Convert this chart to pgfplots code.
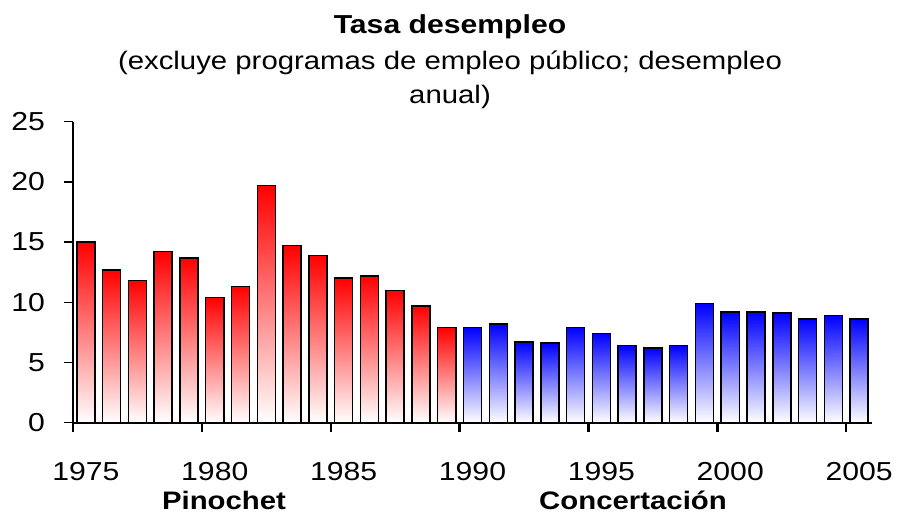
\documentclass[border=0pt]{standalone}
\usepackage{fontspec}
\setmainfont{Liberation Sans}[FakeStretch=1.16]
\usepackage{pgfplots}
\pgfplotsset{compat=1.18}
\pgfplotsset{
  rbar/.style={ybar, bar width=0.7, bar shift=0pt, draw=black, line width=1.5pt, top color=red, bottom color=white},
  bbar/.style={ybar, bar width=0.7, bar shift=0pt, draw=black, line width=1.5pt, top color=blue, bottom color=white},
}
\begin{document}
\begin{tikzpicture}
\useasboundingbox (0,0) rectangle (901pt,517pt);
\begin{axis}[
  at={(73pt,94.3pt)}, anchor=south west,
  scale only axis, width=799pt, height=301pt,
  xmin=1974.5, xmax=2005.5, ymin=0, ymax=25,
  axis x line*=bottom, axis y line*=left,
  x axis line style={line width=2.4pt, -},
  y axis line style={line width=1.3pt, -},
  tick align=outside,
  major tick length=9pt,
  xtick={1974.5,1979.5,1984.5,1989.5,1994.5,1999.5,2004.5},
  xticklabels={1975,1980,1985,1990,1995,2000,2005},
  x tick style={line width=2.4pt, black},
  y tick style={line width=1.3pt, black},
  minor tick num=0,
  ytick={0,5,10,15,20,25},
  yticklabels={0,5,10,15,20,25},
  xticklabel style={font=\fontsize{26}{30}\selectfont, anchor=base, xshift=12.89pt, yshift=-48.3pt},
  yticklabel style={font=\fontsize{26}{30}\selectfont, anchor=east, inner sep=0pt, xshift=-19pt},
  clip=false,
]
% Pinochet years
\addplot[rbar] coordinates {(1975,15.0)};
\addplot[rbar] coordinates {(1976,12.7)};
\addplot[rbar] coordinates {(1977,11.8)};
\addplot[rbar] coordinates {(1978,14.2)};
\addplot[rbar] coordinates {(1979,13.7)};
\addplot[rbar] coordinates {(1980,10.4)};
\addplot[rbar] coordinates {(1981,11.3)};
\addplot[rbar] coordinates {(1982,19.7)};
\addplot[rbar] coordinates {(1983,14.7)};
\addplot[rbar] coordinates {(1984,13.9)};
\addplot[rbar] coordinates {(1985,12.0)};
\addplot[rbar] coordinates {(1986,12.2)};
\addplot[rbar] coordinates {(1987,11.0)};
\addplot[rbar] coordinates {(1988,9.7)};
\addplot[rbar] coordinates {(1989,7.9)};
% Concertacion years
\addplot[bbar] coordinates {(1990,7.9)};
\addplot[bbar] coordinates {(1991,8.2)};
\addplot[bbar] coordinates {(1992,6.7)};
\addplot[bbar] coordinates {(1993,6.6)};
\addplot[bbar] coordinates {(1994,7.9)};
\addplot[bbar] coordinates {(1995,7.4)};
\addplot[bbar] coordinates {(1996,6.4)};
\addplot[bbar] coordinates {(1997,6.2)};
\addplot[bbar] coordinates {(1998,6.4)};
\addplot[bbar] coordinates {(1999,9.9)};
\addplot[bbar] coordinates {(2000,9.2)};
\addplot[bbar] coordinates {(2001,9.2)};
\addplot[bbar] coordinates {(2002,9.1)};
\addplot[bbar] coordinates {(2003,8.6)};
\addplot[bbar] coordinates {(2004,8.9)};
\addplot[bbar] coordinates {(2005,8.6)};
\end{axis}
\node[anchor=base, font=\bfseries\fontsize{26}{30}\selectfont] at (450pt,483pt) {Tasa desempleo};
\node[anchor=base, font=\fontsize{25.3}{30}\selectfont] at (450pt,447pt) {(excluye programas de empleo público; desempleo};
\node[anchor=base, font=\fontsize{25.3}{30}\selectfont] at (450pt,413pt) {anual)};
\node[anchor=base, font=\bfseries\fontsize{25.3}{30}\selectfont] at (224pt,7.7pt) {Pinochet};
\node[anchor=base, font=\bfseries\fontsize{25.3}{30}\selectfont] at (633pt,7.7pt) {Concertación};
\end{tikzpicture}
\end{document}
